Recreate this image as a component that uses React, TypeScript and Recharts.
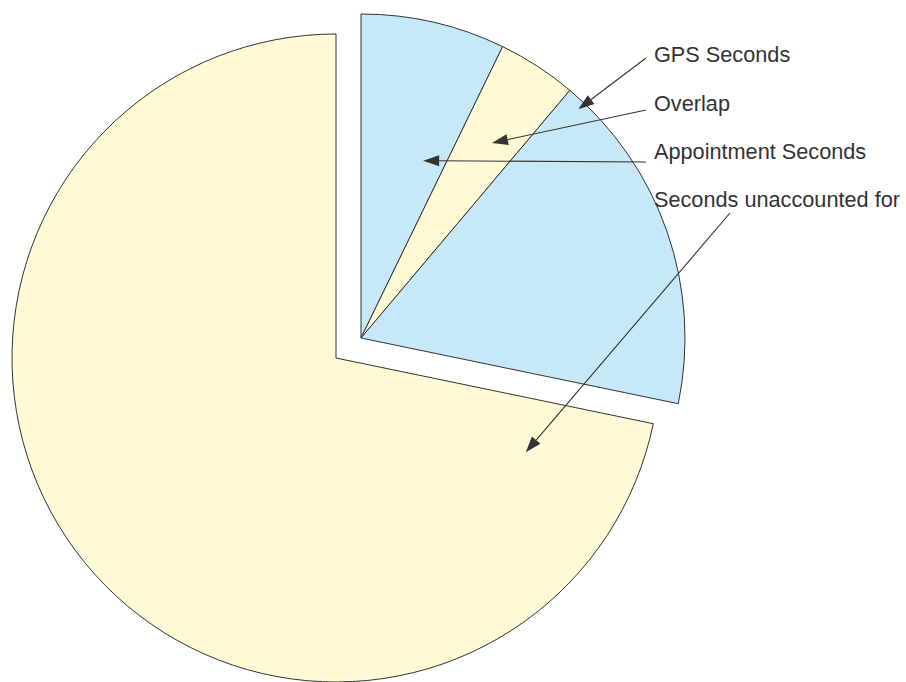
import { Cell, Pie, PieChart } from "recharts";

// slices, clockwise from 12 o'clock
const sliceNames = ["Appointment Seconds", "Overlap", "GPS Seconds", "Seconds unaccounted for"];
const sliceValues = [7.2, 3.95, 17.1, 71.75];
const sliceExploded = [true, true, true, false];

// callouts, top to bottom as they appear on the right
const calloutNames = ["GPS Seconds", "Overlap", "Appointment Seconds", "Seconds unaccounted for"];

const BLUE = "#c6e8f8";
const YELLOW = "#fff9d6";
const INK = "#333333";
const sliceColors = [BLUE, YELLOW, BLUE, YELLOW];

const RADIUS = 324;
const BASE_CENTER = { x: 336, y: 358 };
const EXPLODED_CENTER = { x: 361, y: 338 };

const TEXT_X = 654;
const ROW_BASELINES = [62, 111, 159, 207];
// where each callout line leaves the text
const LINE_STARTS = [
  { x: 646, y: 58 },
  { x: 646, y: 110 },
  { x: 646, y: 162 },
  { x: 730, y: 213 },
];
// where the arrow lands inside its slice: fraction of the sweep, fraction of the radius
const ARROW_SPOTS: Record<string, { t: number; r: number }> = {
  "Appointment Seconds": { t: 0.745, r: 0.58 },
  Overlap: { t: 0.56, r: 0.725 },
  "GPS Seconds": { t: 0.055, r: 0.974 },
  "Seconds unaccounted for": { t: 0.057, r: 0.654 },
};

const data = sliceNames.map((name, i) => ({ name, value: sliceValues[i] }));

const RAD = Math.PI / 180;
const polar = (cx: number, cy: number, r: number, angle: number) => ({
  x: cx + Math.cos(-angle * RAD) * r,
  y: cy + Math.sin(-angle * RAD) * r,
});

function Arrow({ from, to }: { from: { x: number; y: number }; to: { x: number; y: number } }) {
  const dx = to.x - from.x;
  const dy = to.y - from.y;
  const len = Math.hypot(dx, dy);
  const ux = dx / len;
  const uy = dy / len;
  const headLen = 16;
  const halfW = 5.5;
  const bx = to.x - ux * headLen;
  const by = to.y - uy * headLen;
  const pts = [
    [to.x, to.y],
    [bx - uy * halfW, by + ux * halfW],
    [bx + uy * halfW, by - ux * halfW],
  ]
    .map((p) => p.join(","))
    .join(" ");
  return (
    <g>
      <line x1={from.x} y1={from.y} x2={bx} y2={by} stroke={INK} strokeWidth={1.1} />
      <polygon points={pts} fill={INK} stroke="none" />
    </g>
  );
}

const renderCallout = (exploded: boolean) => (props: any) => {
  const { index, cx, cy, outerRadius, startAngle, endAngle, name } = props;
  if (sliceExploded[index] !== exploded) return null;
  const row = calloutNames.indexOf(name);
  const spot = ARROW_SPOTS[name];
  const angle = startAngle + spot.t * (endAngle - startAngle);
  const tip = polar(cx, cy, outerRadius * spot.r, angle);
  return (
    <g key={`callout-${index}`}>
      <Arrow from={LINE_STARTS[row]} to={tip} />
      <text
        x={TEXT_X}
        y={ROW_BASELINES[row]}
        fill={INK}
        fontSize={21.7}
        fontFamily='"Liberation Sans", Arial, sans-serif'
        textAnchor="start"
      >
        {name}
      </text>
    </g>
  );
};

function SlicePie({ exploded }: { exploded: boolean }) {
  const center = exploded ? EXPLODED_CENTER : BASE_CENTER;
  return (
    <Pie
      data={data}
      dataKey="value"
      nameKey="name"
      cx={center.x}
      cy={center.y}
      outerRadius={RADIUS}
      startAngle={90}
      endAngle={-270}
      isAnimationActive={false}
      label={renderCallout(exploded)}
      labelLine={false}
    >
      {data.map((d, i) =>
        sliceExploded[i] === exploded ? (
          <Cell key={d.name} fill={sliceColors[i]} stroke={INK} strokeWidth={1} />
        ) : (
          <Cell key={d.name} fill="none" stroke="none" />
        )
      )}
    </Pie>
  );
}

export default function App() {
  return (
    <div style={{ position: "absolute", left: 0, top: 0, width: 906, height: 682, background: "#fff" }}>
      <PieChart width={906} height={682} margin={{ top: 0, right: 0, bottom: 0, left: 0 }}>
        {SlicePie({ exploded: false })}
        {SlicePie({ exploded: true })}
      </PieChart>
    </div>
  );
}
